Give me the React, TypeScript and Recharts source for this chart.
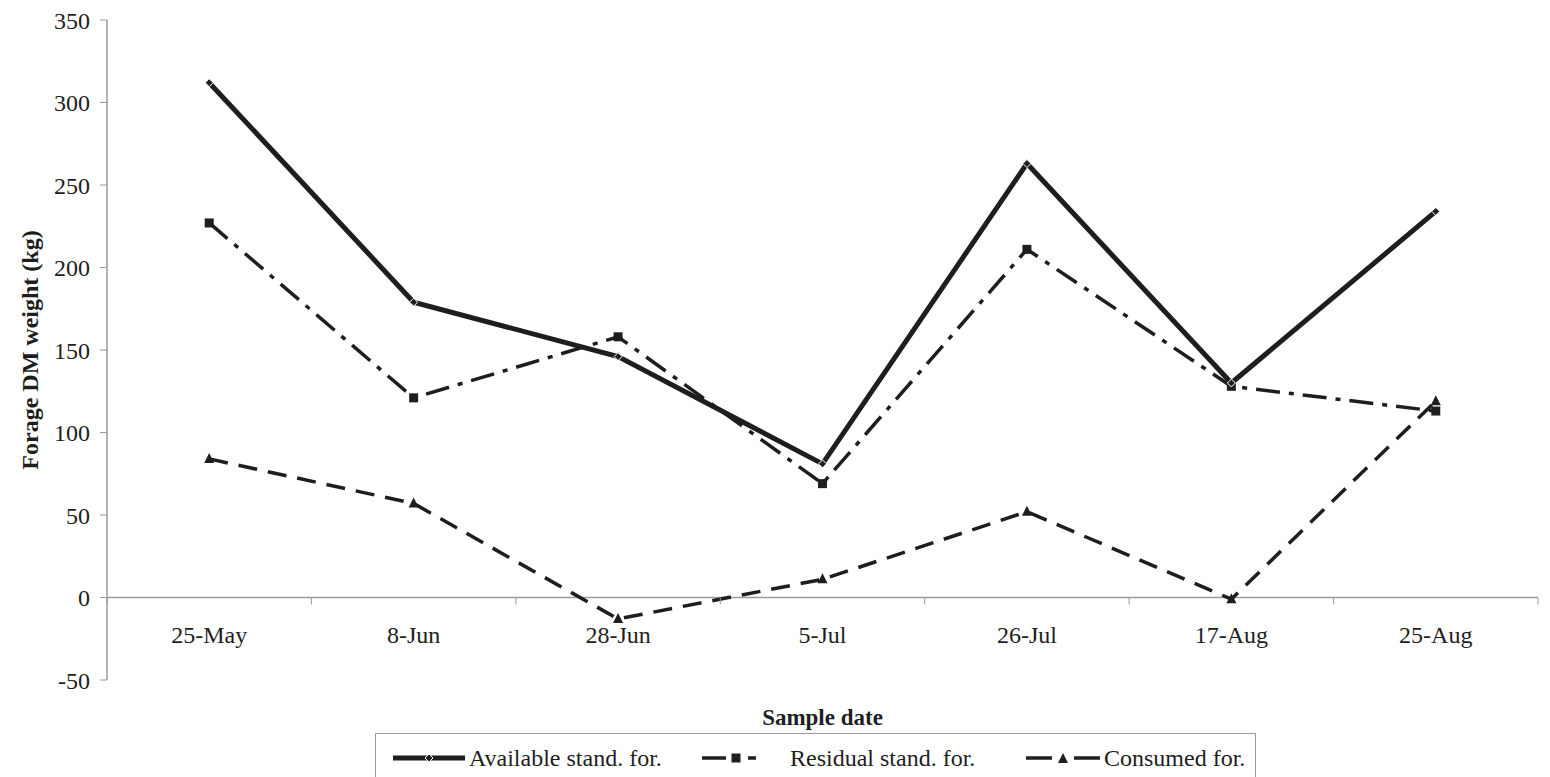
import React from 'react';
import { LineChart, Line, XAxis, YAxis, ReferenceLine, Label } from 'recharts';

// sample dates and forage weights (kg)
const dates = ['25-May', '8-Jun', '28-Jun', '5-Jul', '26-Jul', '17-Aug', '25-Aug'];
const available = [312, 179, 146, 81, 263, 130, 234];
const residual = [227, 121, 158, 69, 211, 128, 113];
const consumed = [84, 57, -13, 11, 52, -1, 119];
const yTicks = [-50, 0, 50, 100, 150, 200, 250, 300, 350];

const data = dates.map((date, i) => ({
  date,
  available: available[i],
  residual: residual[i],
  consumed: consumed[i]
}));

const FONT = '"Liberation Serif", "Times New Roman", serif';
const INK = '#1e1e1e';
const AXIS = '#9a9a9a';

const W = 1550;
const H = 777;
const PLOT_LEFT = 107;
const PLOT_RIGHT = 1538;
const PLOT_TOP = 20;
const PLOT_BOTTOM = 680;
const Y_MIN = -50;
const Y_MAX = 350;
const BAND = (PLOT_RIGHT - PLOT_LEFT) / dates.length;
const Y_ZERO = PLOT_TOP + ((PLOT_BOTTOM - PLOT_TOP) * Y_MAX) / (Y_MAX - Y_MIN);

const Diamond = ({ cx, cy, size = 4, fill = INK }: any) => (
  <path
    d={`M${cx},${cy - size} L${cx + size},${cy} L${cx},${cy + size} L${cx - size},${cy} Z`}
    fill={fill}
    stroke="#fff"
    strokeWidth={1}
  />
);

const Square = ({ cx, cy, size = 4.5 }: any) => (
  <rect x={cx - size} y={cy - size} width={size * 2} height={size * 2} fill={INK} />
);

const Triangle = ({ cx, cy, size = 5 }: any) => (
  <path d={`M${cx},${cy - size - 1} L${cx + size},${cy + size - 1} L${cx - size},${cy + size - 1} Z`} fill={INK} />
);

// x tick labels sit under the zero line, tick marks at the category boundaries
const CategoryTick = ({ x, payload, index }: any) => (
  <g>
    <line x1={x - BAND / 2} x2={x - BAND / 2} y1={Y_ZERO} y2={Y_ZERO + 7} stroke={AXIS} />
    {index === dates.length - 1 && (
      <line x1={x + BAND / 2} x2={x + BAND / 2} y1={Y_ZERO} y2={Y_ZERO + 7} stroke={AXIS} />
    )}
    <text x={x} y={Y_ZERO + 40} textAnchor="middle" dominantBaseline="middle" fontSize={24} fontFamily={FONT} fill={INK}>
      {payload.value}
    </text>
  </g>
);

const legendItems = [
  { name: 'Available stand. for.', sample: 'available', left: 393 },
  { name: 'Residual stand. for.', sample: 'residual', left: 702 },
  { name: 'Consumed for.', sample: 'consumed', left: 1026 }
];

function LegendSample({ kind }: { kind: string }) {
  if (kind === 'available') {
    return (
      <svg width={72} height={20}>
        <line x1={0} x2={72} y1={10} y2={10} stroke={INK} strokeWidth={5} />
        <Diamond cx={36} cy={10} size={4} />
      </svg>
    );
  }
  if (kind === 'residual') {
    return (
      <svg width={60} height={20}>
        <line x1={0} x2={24} y1={10} y2={10} stroke={INK} strokeWidth={3.5} />
        <Square cx={34} cy={10} size={4.5} />
        <line x1={46} x2={54} y1={10} y2={10} stroke={INK} strokeWidth={3.5} />
      </svg>
    );
  }
  return (
    <svg width={74} height={20}>
      <line x1={0} x2={26} y1={10} y2={10} stroke={INK} strokeWidth={3.5} />
      <Triangle cx={37} cy={11} size={5} />
      <line x1={48} x2={74} y1={10} y2={10} stroke={INK} strokeWidth={3.5} />
    </svg>
  );
}

export default function App() {
  return (
    <div style={{ position: 'absolute', left: 0, top: 0, width: W, height: H, overflow: 'hidden', background: '#fff' }}>
      <LineChart
        width={W}
        height={H}
        data={data}
        margin={{ top: PLOT_TOP, right: W - PLOT_RIGHT, left: 0, bottom: 0 }}
      >
        <ReferenceLine y={0} stroke={AXIS} strokeWidth={1.5} ifOverflow="hidden" />
        <XAxis
          dataKey="date"
          height={H - PLOT_BOTTOM}
          axisLine={false}
          tickLine={false}
          interval={0}
          padding={{ left: BAND / 2, right: BAND / 2 }}
          tick={<CategoryTick />}
        >
          <Label
            value="Sample date"
            position="insideTop"
            offset={29}
            style={{ fontFamily: FONT, fontSize: 23, fontWeight: 'bold', fill: INK }}
          />
        </XAxis>
        <YAxis
          width={PLOT_LEFT}
          domain={[Y_MIN, Y_MAX]}
          ticks={yTicks}
          interval={0}
          axisLine={{ stroke: AXIS, strokeWidth: 1.5 }}
          tickLine={{ stroke: AXIS }}
          tickSize={7}
          tickMargin={10}
          tick={{ fill: INK, fontSize: 24, fontFamily: FONT }}
        >
          <Label
            content={({ viewBox }: any) => {
              const cy = viewBox.y + viewBox.height / 2;
              return (
                <text
                  x={32}
                  y={cy}
                  transform={`rotate(-90, 32, ${cy})`}
                  textAnchor="middle"
                  dominantBaseline="middle"
                  fontFamily={FONT}
                  fontSize={24}
                  fontWeight="bold"
                  fill={INK}
                >
                  Forage DM weight (kg)
                </text>
              );
            }}
          />
        </YAxis>
        <Line
          dataKey="consumed"
          stroke={INK}
          strokeWidth={3.5}
          strokeDasharray="19 11"
          dot={(p: any) => <Triangle key={`c-${p.index}`} cx={p.cx} cy={p.cy} />}
          isAnimationActive={false}
        />
        <Line
          dataKey="residual"
          stroke={INK}
          strokeWidth={3.5}
          strokeDasharray="24 9 5 9"
          dot={(p: any) => <Square key={`r-${p.index}`} cx={p.cx} cy={p.cy} />}
          isAnimationActive={false}
        />
        <Line
          dataKey="available"
          stroke={INK}
          strokeWidth={5}
          dot={(p: any) => <Diamond key={`a-${p.index}`} cx={p.cx} cy={p.cy} />}
          isAnimationActive={false}
        />
      </LineChart>

      {/* legend box, runs past the bottom edge like the scan */}
      <div
        style={{
          position: 'absolute',
          left: 375,
          top: 733,
          width: 881,
          height: 70,
          border: '1.5px solid #9a9a9a',
          boxSizing: 'border-box'
        }}
      />
      {legendItems.map((item) => (
        <div
          key={item.name}
          style={{
            position: 'absolute',
            left: item.left,
            top: 744,
            display: 'flex',
            alignItems: 'center',
            fontFamily: FONT,
            fontSize: 24,
            color: INK,
            whiteSpace: 'nowrap',
            lineHeight: '28px'
          }}
        >
          <LegendSample kind={item.sample} />
          <span style={{ marginLeft: item.sample === 'residual' ? 28 : 4 }}>{item.name}</span>
        </div>
      ))}
    </div>
  );
}
